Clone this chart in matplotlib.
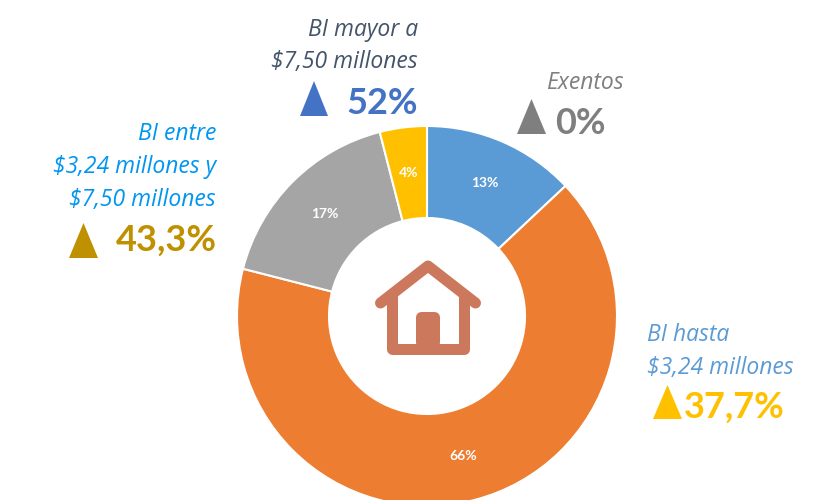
import matplotlib
matplotlib.use("Agg")
import matplotlib.pyplot as plt
from matplotlib.patches import Polygon, FancyBboxPatch

segment_values = [13, 66, 17, 4]
segment_colors = ["#5B9BD5", "#ED7D31", "#A5A5A5", "#FFC000"]

# (lines, colour, alignment, x, baselines from the top)
group_labels = [
    (["BI mayor a", "$7,50 millones"], "#44546A", "right", 418, [36, 68]),
    (["BI entre", "$3,24 millones y", "$7,50 millones"], "#0096F0", "right", 216, [140, 173, 206]),
    (["Exentos"], "#7F7F7F", "right", 624, [89]),
    (["BI hasta", "$3,24 millones"], "#5B9BD5", "left", 647, [341, 374]),
]
# (text, colour, right edge, baseline, triangle left, triangle right, triangle top, triangle bottom)
changes = [
    ("52%", "#4472C4", 418, 114, 300, 328, 81, 116),
    ("43,3%", "#BF9000", 217, 251, 69, 98, 223, 258),
    ("0%", "#7F7F7F", 606, 134, 517, 546, 99, 134),
    ("37,7%", "#FFC000", 785, 418, 653, 682, 385, 419),
]

W, H = 831, 500
fig = plt.figure(figsize=(W / 100, H / 100), dpi=100)
ax = fig.add_axes([0, 0, 1, 1])
Y = lambda y: H - y

wedges, _, pct = ax.pie(
    segment_values, colors=segment_colors, center=(427, Y(316)), radius=190,
    startangle=90, counterclock=False, autopct="%d%%", pctdistance=0.76,
    wedgeprops=dict(width=92, edgecolor="white", linewidth=1.5), frame=False,
)
for t in pct:
    t.set(color="white", fontweight="bold", fontsize=10, family="Lato")

for lines, color, ha, x, ys in group_labels:
    for line, y in zip(lines, ys):
        ax.text(x, Y(y), line, color=color, ha=ha, va="baseline",
                family="Open Sans", style="italic", fontsize=16.5)

for text, color, xr, yb, tl, tr, tt, tb in changes:
    ax.text(xr, Y(yb), text, color=color, ha="right", va="baseline",
            family="Lato", fontweight="bold", fontsize=26)
    ax.add_patch(Polygon([(tl, Y(tb)), (tr, Y(tb)), ((tl + tr) / 2, Y(tt))], closed=True,
                         facecolor=color, edgecolor="none"))

# House icon
house = "#CC785C"
lw = 11 * 72 / 100
ax.plot([380.5, 428, 475.5], [Y(303), Y(266), Y(303)], color=house, lw=lw,
        solid_capstyle="round", solid_joinstyle="round")
ax.plot([392, 392, 463.5, 463.5], [Y(296), Y(349), Y(349), Y(296)], color=house, lw=lw,
        solid_capstyle="butt", solid_joinstyle="round")
ax.add_patch(FancyBboxPatch((420, Y(344)), 16, 28, boxstyle="round,pad=4,rounding_size=6",
                            facecolor=house, edgecolor="none"))

ax.set_xlim(0, W)
ax.set_ylim(0, H)
ax.set_aspect("equal")
ax.axis("off")
fig.savefig("out.png", dpi=100, facecolor="white")
